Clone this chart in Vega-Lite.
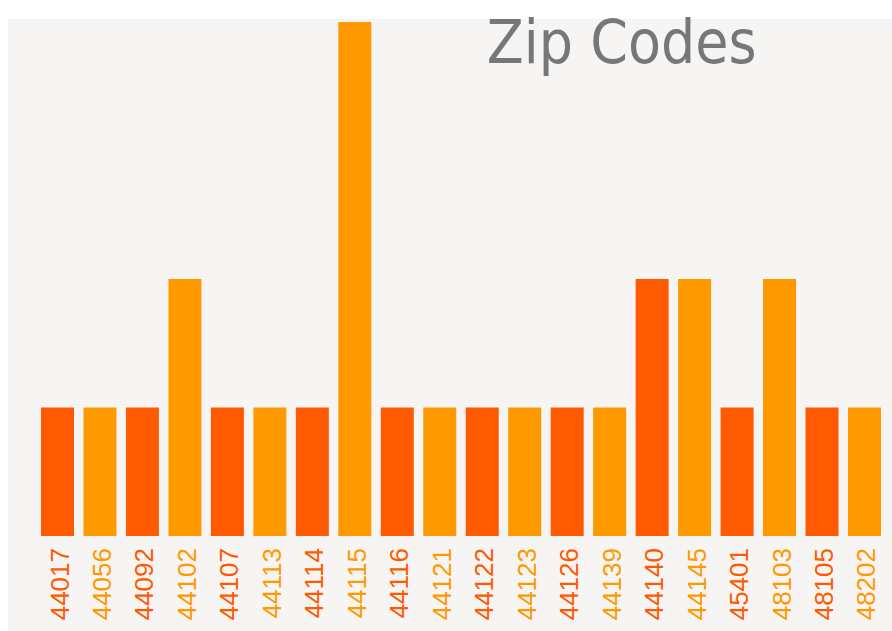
{
  "$schema": "https://vega.github.io/schema/vega-lite/v6.json",
  "width": 884,
  "height": 612,
  "autosize": "none",
  "padding": {"left": 8, "top": 19, "right": 0, "bottom": 0},
  "background": "#ffffff",
  "config": {"view": {"fill": "#f7f5f4", "stroke": null}},
  "datasets": {
    "title": [{"label": "Zip Codes", "zip": "45401", "pos": 3.68}],
    "bars": [
      {"zip": "44017", "count": 1, "group": "a"},
      {"zip": "44056", "count": 1, "group": "b"},
      {"zip": "44092", "count": 1, "group": "a"},
      {"zip": "44102", "count": 2, "group": "b"},
      {"zip": "44107", "count": 1, "group": "a"},
      {"zip": "44113", "count": 1, "group": "b"},
      {"zip": "44114", "count": 1, "group": "a"},
      {"zip": "44115", "count": 4, "group": "b"},
      {"zip": "44116", "count": 1, "group": "a"},
      {"zip": "44121", "count": 1, "group": "b"},
      {"zip": "44122", "count": 1, "group": "a"},
      {"zip": "44123", "count": 1, "group": "b"},
      {"zip": "44126", "count": 1, "group": "a"},
      {"zip": "44139", "count": 1, "group": "b"},
      {"zip": "44140", "count": 2, "group": "a"},
      {"zip": "44145", "count": 2, "group": "b"},
      {"zip": "45401", "count": 1, "group": "a"},
      {"zip": "48103", "count": 2, "group": "b"},
      {"zip": "48105", "count": 1, "group": "a"},
      {"zip": "48202", "count": 1, "group": "b"}
    ]
  },
  "data": {"name": "bars"},
  "layer": [
    {
      "mark": {"type": "bar"},
      "encoding": {
        "x": {
          "field": "zip",
          "type": "nominal",
          "sort": null,
          "axis": null,
          "scale": {"paddingInner": 0.223, "paddingOuter": 0.518, "align": 0.75}
        },
        "y": {
          "field": "count",
          "type": "quantitative",
          "axis": null,
          "scale": {"domain": [-0.739, 4.024], "nice": false, "zero": false}
        },
        "y2": {"datum": 0},
        "color": {
          "field": "group",
          "type": "nominal",
          "scale": {"domain": ["a", "b"], "range": ["#ff5a00", "#ff9900"]},
          "legend": null
        }
      }
    },
    {
      "mark": {
        "type": "text",
        "angle": 270,
        "align": "right",
        "baseline": "middle",
        "font": "Liberation Sans",
        "fontSize": 26,
        "dy": 3
      },
      "encoding": {
        "x": {"field": "zip", "type": "nominal", "sort": null},
        "y": {"datum": -0.093},
        "text": {"field": "zip"},
        "color": {"field": "group", "type": "nominal"}
      }
    },
    {
      "data": {"name": "title"},
      "mark": {
        "type": "text",
        "align": "right",
        "baseline": "alphabetic",
        "font": "DejaVu Sans Condensed, Liberation Sans",
        "fontSize": 60,
        "color": "#777777",
        "dx": 3
      },
      "encoding": {
        "x": {"field": "zip", "type": "nominal", "bandPosition": 1},
        "y": {"field": "pos", "type": "quantitative"},
        "text": {"field": "label"}
      }
    }
  ]
}
